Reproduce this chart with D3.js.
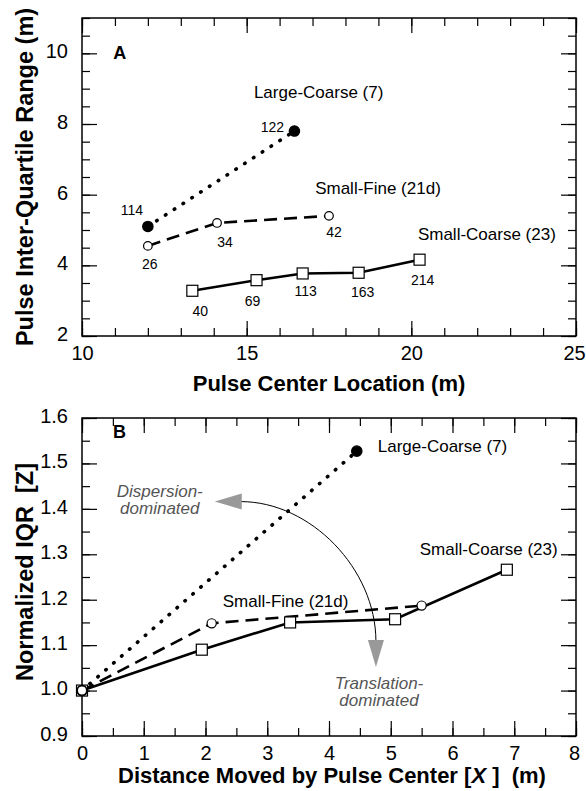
<!DOCTYPE html>
<html>
<head>
<meta charset="utf-8">
<script src="https://cdn.jsdelivr.net/npm/d3@7"></script>
<style>
  body { margin: 0; background: #fff; }
  text { font-family: "Liberation Sans", Arial, Helvetica, sans-serif; }
</style>
</head>
<body>
<div id="chart"></div>
<script>
// panel A: pulse IQR vs pulse center location
const aLargeX = [12.0, 16.45];
const aLargeY = [5.1, 7.8];
const aLargeLbl = ["114", "122"];
const aFineX = [12.0, 14.1, 17.5];
const aFineY = [4.55, 5.2, 5.4];
const aFineLbl = ["26", "34", "42"];
const aCoarseX = [13.35, 15.3, 16.7, 18.4, 20.25];
const aCoarseY = [3.28, 3.58, 3.77, 3.79, 4.16];
const aCoarseLbl = ["40", "69", "113", "163", "214"];

// panel B: normalized IQR vs distance moved
const bLargeX = [0, 4.45];
const bLargeY = [1.0, 1.527];
const bFineX = [0, 2.1, 5.5];
const bFineY = [1.0, 1.148, 1.187];
const bCoarseX = [0, 1.94, 3.37, 5.07, 6.88];
const bCoarseY = [1.0, 1.09, 1.15, 1.157, 1.266];

const seriesNames = ["Large-Coarse (7)", "Small-Fine (21d)", "Small-Coarse (23)"];

// ticks
const aXMajor = [10, 15, 20, 25];
const aYMajor = [2, 4, 6, 8, 10];
const bXMajor = [0, 1, 2, 3, 4, 5, 6, 7, 8];
const bYMajor = [0.9, 1.0, 1.1, 1.2, 1.3, 1.4, 1.5, 1.6];

const width = 586, height = 791;
const left = 82, plotW = 494, plotH = 318;
const topA = 18, topB = 418;

const svg = d3.select("#chart").append("svg")
  .attr("width", width).attr("height", height);

const xA = d3.scaleLinear().domain([10, 25]).range([left, left + plotW]);
const yA = d3.scaleLinear().domain([2, 11]).range([topA + plotH, topA]);
const xB = d3.scaleLinear().domain([0, 8]).range([left, left + plotW]);
const yB = d3.scaleLinear().domain([0.9, 1.6]).range([topB + plotH, topB]);

function drawFrame(x, y, xMinor, xMajor, yMinor, yMajor, yFmt) {
  const x0 = x.range()[0], x1 = x.range()[1];
  const y0 = y.range()[0], y1 = y.range()[1];
  const g = svg.append("g");

  // ticks point inward on all four sides
  const sets = [
    [d3.axisBottom(x).tickValues(xMinor).tickFormat("").tickSize(-8), `translate(0,${y0})`],
    [d3.axisBottom(x).tickValues(xMajor).tickFormat(d3.format("d")).tickSize(-15).tickPadding(10), `translate(0,${y0})`],
    [d3.axisTop(x).tickValues(xMinor).tickFormat("").tickSize(-8), `translate(0,${y1})`],
    [d3.axisTop(x).tickValues(xMajor).tickFormat("").tickSize(-15), `translate(0,${y1})`],
    [d3.axisLeft(y).tickValues(yMinor).tickFormat("").tickSize(-8), `translate(${x0},0)`],
    [d3.axisLeft(y).tickValues(yMajor).tickFormat(yFmt).tickSize(-15).tickPadding(14), `translate(${x0},0)`],
    [d3.axisRight(y).tickValues(yMinor).tickFormat("").tickSize(-8), `translate(${x1},0)`],
    [d3.axisRight(y).tickValues(yMajor).tickFormat("").tickSize(-15), `translate(${x1},0)`]
  ];
  sets.forEach(([ax, tr], k) => {
    const a = g.append("g").attr("transform", tr).call(ax);
    a.select(".domain").remove();
    a.selectAll("line").attr("stroke", "#000").attr("stroke-width", 1.2);
    a.selectAll("text").attr("fill", "#000").style("font-size", "20px")
      .style("font-family", '"Liberation Sans", Arial, sans-serif');
    if (k === 5) a.selectAll("text").attr("dy", "0.22em");
    // keep the last x label inside the page edge
    if (k === 1) a.selectAll("text").filter(d => d === xMajor[xMajor.length - 1]).attr("dx", -2);
  });

  g.append("rect")
    .attr("x", x0).attr("y", y1)
    .attr("width", x1 - x0).attr("height", y0 - y1)
    .attr("fill", "none").attr("stroke", "#000").attr("stroke-width", 1.5);
}

drawFrame(xA, yA, d3.range(10, 25.01, 1), aXMajor, d3.range(2, 11.01, 0.5), aYMajor, d3.format("d"));
drawFrame(xB, yB, d3.range(0, 8.01, 0.5), bXMajor, d3.range(0.9, 1.601, 0.05), bYMajor, d3.format(".1f"));

const lineStyles = [
  { dash: "0.5 10", width: 3.6, cap: "round" },
  { dash: "13 7", width: 2.6, cap: "butt" },
  { dash: null, width: 2.6, cap: "butt" }
];

function drawLine(xs, ys, x, y, st) {
  const line = d3.line().x(i => x(xs[i])).y(i => y(ys[i]));
  svg.append("path")
    .attr("d", line(d3.range(xs.length)))
    .attr("fill", "none").attr("stroke", "#000")
    .attr("stroke-width", st.width)
    .attr("stroke-linecap", st.cap)
    .attr("stroke-dasharray", st.dash);
}

function drawSquares(xs, ys, x, y) {
  svg.append("g").selectAll("rect").data(d3.range(xs.length)).join("rect")
    .attr("x", i => x(xs[i]) - 5.5).attr("y", i => y(ys[i]) - 5.5)
    .attr("width", 11).attr("height", 11)
    .attr("fill", "#fff").attr("stroke", "#000").attr("stroke-width", 1.2);
}
function drawCircles(xs, ys, x, y, filled, r) {
  svg.append("g").selectAll("circle").data(d3.range(xs.length)).join("circle")
    .attr("cx", i => x(xs[i])).attr("cy", i => y(ys[i]))
    .attr("r", r)
    .attr("fill", filled ? "#000" : "#fff")
    .attr("stroke", "#000").attr("stroke-width", 1.2);
}
function drawPointLabels(xs, ys, labels, offs, x, y) {
  svg.append("g").selectAll("text").data(d3.range(xs.length)).join("text")
    .attr("x", i => x(xs[i]) + offs[i][0])
    .attr("y", i => y(ys[i]) + offs[i][1])
    .attr("text-anchor", "middle")
    .style("font-size", "14px")
    .text(i => labels[i]);
}

// ---- panel A
drawLine(aLargeX, aLargeY, xA, yA, lineStyles[0]);
drawLine(aFineX, aFineY, xA, yA, lineStyles[1]);
drawLine(aCoarseX, aCoarseY, xA, yA, lineStyles[2]);
drawSquares(aCoarseX, aCoarseY, xA, yA);
drawCircles(aFineX, aFineY, xA, yA, false, 4.3);
drawCircles(aLargeX, aLargeY, xA, yA, true, 5.2);

drawPointLabels(aLargeX, aLargeY, aLargeLbl, [[-16, -11], [-22, 1]], xA, yA);
drawPointLabels(aFineX, aFineY, aFineLbl, [[2, 23], [8, 24], [5, 21]], xA, yA);
drawPointLabels(aCoarseX, aCoarseY, aCoarseLbl, [[8, 25], [-4, 26], [3, 23], [4, 24], [3, 25]], xA, yA);

function label(txt, px, py, size, opts = {}) {
  return svg.append("text").attr("x", px).attr("y", py)
    .attr("text-anchor", opts.anchor || "start")
    .style("font-size", size + "px")
    .style("font-weight", opts.bold ? "bold" : "normal")
    .style("font-style", opts.italic ? "italic" : "normal")
    .attr("fill", opts.fill || "#000")
    .text(txt);
}

label("A", xA(10.95), yA(9.85), 18, { bold: true });
label(seriesNames[0], xA(15.22), yA(8.73), 17);
label(seriesNames[1], xA(17.08), yA(6.03), 17);
label(seriesNames[2], xA(20.2), yA(4.73), 17);

// axis titles A
label("Pulse Center Location (m)", 329, 391, 22, { bold: true, anchor: "middle" });
label("Pulse Inter-Quartile Range (m)", 0, 0, 23.5, { bold: true, anchor: "middle" })
  .attr("transform", "translate(33,177) rotate(-90)");

// ---- panel B
drawLine(bLargeX, bLargeY, xB, yB, lineStyles[0]);
drawLine(bFineX, bFineY, xB, yB, lineStyles[1]);
drawLine(bCoarseX, bCoarseY, xB, yB, lineStyles[2]);
drawSquares(bCoarseX, bCoarseY, xB, yB);
drawCircles(bLargeX, bLargeY, xB, yB, true, 5.2);
drawCircles(bFineX, bFineY, xB, yB, false, 4.6);

label("B", xB(0.5), yB(1.555), 18, { bold: true });
label(seriesNames[0], xB(4.79), yB(1.525), 17);
label(seriesNames[2], xB(5.47), yB(1.299), 17);
label(seriesNames[1], xB(2.28), yB(1.184), 17);

const grey = "#999";
const txtGrey = "#555";
const lineGap = 17.5;
label("Dispersion-", xB(1.26), yB(1.427), 17, { italic: true, anchor: "middle", fill: txtGrey });
label("dominated", xB(1.26), yB(1.427) + lineGap, 17, { italic: true, anchor: "middle", fill: txtGrey });
label("Translation-", xB(4.81), yB(1.004), 17, { italic: true, anchor: "middle", fill: txtGrey });
label("dominated", xB(4.81), yB(1.004) + lineGap, 17, { italic: true, anchor: "middle", fill: txtGrey });

// curved arrow between the two regimes
const arrowStart = [2.57, 1.416], ctrl1 = [3.7, 1.416], ctrl2 = [4.76, 1.268], arrowEnd = [4.76, 1.108];
const p = d3.path();
p.moveTo(xB(arrowStart[0]), yB(arrowStart[1]));
p.bezierCurveTo(xB(ctrl1[0]), yB(ctrl1[1]), xB(ctrl2[0]), yB(ctrl2[1]), xB(arrowEnd[0]), yB(arrowEnd[1]));
svg.append("path").attr("d", p.toString()).attr("fill", "none")
  .attr("stroke", "#000").attr("stroke-width", 1);

const tipL = [xB(2.15), yB(1.416)];
svg.append("path")
  .attr("d", `M${tipL[0]},${tipL[1]} L${tipL[0] + 27},${tipL[1] - 8} L${tipL[0] + 27},${tipL[1] + 8} Z`)
  .attr("fill", grey);
const tipD = [xB(4.76), yB(1.052)];
svg.append("path")
  .attr("d", `M${tipD[0]},${tipD[1]} L${tipD[0] - 8},${tipD[1] - 27} L${tipD[0] + 8},${tipD[1] - 27} Z`)
  .attr("fill", grey);

// axis titles B
const xt = svg.append("text").attr("x", 332).attr("y", 783)
  .attr("text-anchor", "middle").style("font-size", "22px").style("font-weight", "bold")
  .style("white-space", "pre");
xt.append("tspan").text("Distance Moved by Pulse Center [");
xt.append("tspan").style("font-style", "italic").text("X");
xt.append("tspan").text(" ]  (m)");

svg.append("text").attr("transform", "translate(33,572) rotate(-90)")
  .attr("text-anchor", "middle").style("font-size", "23.5px").style("font-weight", "bold")
  .style("white-space", "pre")
  .text("Normalized IQR  [Z]");
</script>
</body>
</html>
